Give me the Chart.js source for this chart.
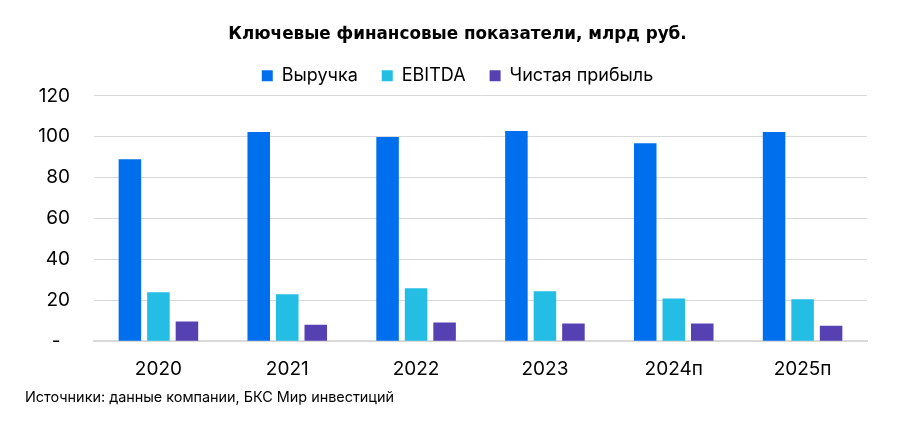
<!DOCTYPE html>
<html lang="ru">
<head>
<meta charset="utf-8">
<script src="https://cdn.jsdelivr.net/npm/chart.js@4/dist/chart.umd.min.js"></script>
<style>
  html, body { margin: 0; padding: 0; background: #fff; }
  #wrap { position: relative; width: 915px; height: 431px; }
  #source {
    position: absolute; left: 25px; top: 388px;
    font: 14.4px "Inter", sans-serif; color: #000;
  }
</style>
</head>
<body>
<div id="wrap">
  <canvas id="chart" width="915" height="431"></canvas>
  <div id="source">Источники: данные компании, БКС Мир инвестиций</div>
</div>
<script>
// data
const years = ["2020", "2021", "2022", "2023", "2024п", "2025п"];
const revenue = [89, 102.3, 99.8, 102.8, 96.8, 102.3];
const ebitda = [23.9, 22.9, 25.9, 24.4, 20.9, 20.5];
const netProfit = [9.6, 8.1, 9.1, 8.6, 8.6, 7.6];
const yTicks = [0, 20, 40, 60, 80, 100, 120];

const FONT = "Inter";

// push the plot area down a little below the legend,
// and center title + legend on the whole canvas
const layoutTweaks = {
  id: "layoutTweaks",
  beforeInit(chart) {
    const fit = chart.legend.fit;
    chart.legend.fit = function () {
      fit.bind(chart.legend)();
      this.height += 1;
    };
  },
  afterLayout(chart) {
    [chart.titleBlock, chart.legend].forEach((b) => {
      b.left = 0;
      b.right = chart.width;
      b.width = chart.width;
    });
  },
};

const ctx = document.getElementById("chart").getContext("2d");

new Chart(ctx, {
  type: "bar",
  data: {
    labels: years,
    datasets: [
      { label: "Выручка", data: revenue, backgroundColor: "#006FEE" },
      { label: "EBITDA", data: ebitda, backgroundColor: "#24BDE4" },
      { label: "Чистая прибыль", data: netProfit, backgroundColor: "#5641B3" },
    ],
  },
  options: {
    responsive: false,
    animation: false,
    categoryPercentage: 0.664,
    barPercentage: 0.79,
    layout: { padding: { left: 25, right: 48, top: 0, bottom: 33 } },
    plugins: {
      title: {
        display: true,
        text: "Ключевые финансовые показатели, млрд руб.",
        color: "#000",
        font: { family: "DejaVu Sans", size: 16.8, weight: "bold", lineHeight: 1 },
        padding: { top: 26, bottom: 0 },
      },
      legend: {
        position: "top",
        labels: {
          color: "#000",
          font: { family: FONT, size: 18 },
          boxWidth: 11,
          boxHeight: 11,
          padding: 24,
        },
      },
      tooltip: { enabled: false },
    },
    scales: {
      x: {
        grid: { display: false, drawTicks: false },
        border: { color: "#d9d9d9", width: 2 },
        ticks: {
          color: "#000",
          padding: 17,
          font: { family: FONT, size: 19 },
        },
      },
      y: {
        min: 0,
        max: 120,
        afterFit: (scale) => {
          scale.width = 69;
        },
        afterBuildTicks: (scale) => {
          scale.ticks = yTicks.map((v) => ({ value: v }));
        },
        border: { display: false },
        grid: { color: "#d9d9d9", lineWidth: 1, drawTicks: false },
        ticks: {
          color: "#000",
          padding: 24,
          font: { family: FONT, size: 19 },
          callback: (v) => (v === 0 ? "-\u2002" : v),
        },
      },
    },
  },
  plugins: [layoutTweaks],
});
</script>
</body>
</html>
